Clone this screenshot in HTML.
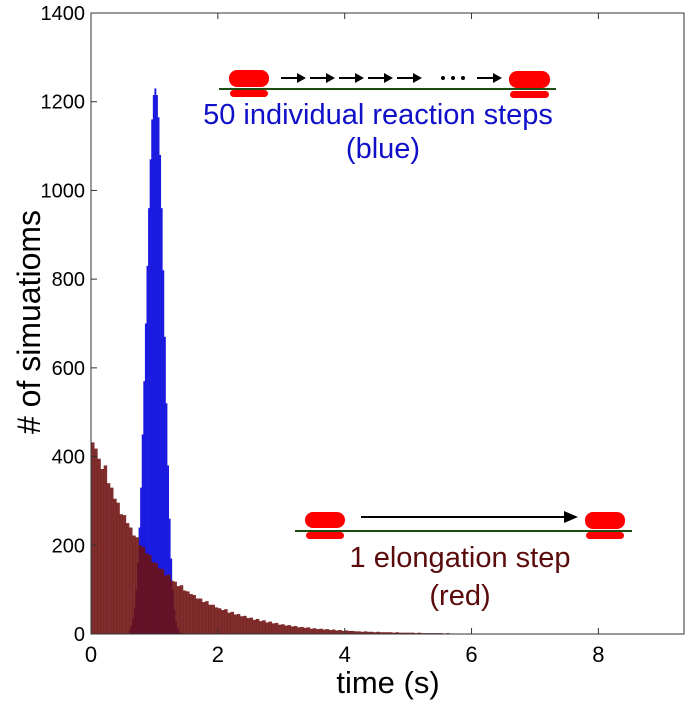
<!DOCTYPE html>
<html><head><meta charset="utf-8"><style>
body{margin:0;background:#fff;}
svg text{font-family:"Liberation Sans",sans-serif;}
</style></head><body>
<svg id="chart" width="685" height="702" xmlns="http://www.w3.org/2000/svg">
<rect width="685" height="702" fill="#fff"/>
<g id="bars"></g>
<g id="axes"></g>
<g id="diagram-top">
 <line x1="219" y1="89" x2="556" y2="89" stroke="#1e4d12" stroke-width="2"/>
 <rect x="229" y="70" width="40" height="17" rx="8" fill="#f00"/>
 <rect x="230" y="90" width="38" height="7" rx="3.5" fill="#f00"/>
 <rect x="509" y="71" width="41" height="17" rx="8" fill="#f00"/>
 <rect x="510" y="91" width="39" height="7" rx="3.5" fill="#f00"/>
 <g id="step-arrows" stroke="#000" stroke-width="2" fill="#000"></g>
 <circle cx="443" cy="78" r="2" fill="#000"/><circle cx="453" cy="78" r="2" fill="#000"/><circle cx="463" cy="78" r="2" fill="#000"/>
 <text x="378" y="124" font-size="29" fill="#1010c8" text-anchor="middle">50 individual reaction steps</text>
 <text x="383" y="158" font-size="29" fill="#1010c8" text-anchor="middle">(blue)</text>
</g>
<g id="diagram-bottom">
 <line x1="295" y1="531" x2="632" y2="531" stroke="#1e4d12" stroke-width="2"/>
 <rect x="305" y="512" width="40" height="16" rx="8" fill="#f00"/>
 <rect x="306" y="532" width="38" height="7" rx="3.5" fill="#f00"/>
 <rect x="585" y="512" width="40" height="17" rx="8" fill="#f00"/>
 <rect x="586" y="532" width="38" height="7" rx="3.5" fill="#f00"/>
 <line x1="361" y1="517" x2="570" y2="517" stroke="#000" stroke-width="2"/>
 <polygon points="578,517 564,511 564,523" fill="#000"/>
 <text x="460" y="567" font-size="29" fill="#5a0a0a" text-anchor="middle">1 elongation step</text>
 <text x="460" y="605" font-size="29" fill="#5a0a0a" text-anchor="middle">(red)</text>
</g>
<text x="388" y="693" font-size="31" text-anchor="middle">time (s)</text>
<text transform="translate(40,322) rotate(-90)" font-size="32" text-anchor="middle"># of simuatioms</text>
</svg>
<script>
const redStart = 0, redWidth = 0.05;
const redValues = [432,418,395,372,380,340,330,305,296,270,268,250,240,222,218,200,196,182,178,162,160,148,146,132,134,120,118,108,110,98,96,90,88,80,80,72,74,66,66,60,58,54,56,48,50,44,45,40,41,36,37,32,34,29,31,26,28,24,25,21,22,19,20,17,18,15,16,14,15,12,13,11,12,10,11,9,10,8,9,7,8,7,7,6,6,5,6,5,5,4,5,4,4,4,4,3,4,3,3,3,3,3,2,3,2,2,2,2,2,2,2,1,2,1,1,1,1,1,1,1,1];
const blueStart = 0.6, blueWidth = 0.025;
const blueValues = [10,20,35,60,100,160,240,330,450,570,700,830,960,1070,1160,1215,1230,1215,1165,1080,960,820,670,520,380,260,170,100,55,28,14,6,3,1];
const xTicks = [0,2,4,6,8];
const yTicks = [0,200,400,600,800,1000,1200,1400];
const X0=91, X1=684, Y0=634, Y1=13, XMAX=9.35, YMAX=1400;
const xs = v => X0 + v/XMAX*(X1-X0);
const ys = v => Y0 - v/YMAX*(Y0-Y1);
const NS="http://www.w3.org/2000/svg";
const bars=document.getElementById('bars'), axes=document.getElementById('axes');
function mk(tag, attrs, parent){const e=document.createElementNS(NS,tag);for(const k in attrs)e.setAttribute(k,attrs[k]);parent.appendChild(e);return e;}
const arrowsG=document.getElementById('step-arrows');
[281,310,339,368,397,477].forEach(x=>{
  mk('line',{x1:x,y1:78,x2:x+20,y2:78},arrowsG);
  mk('polygon',{points:`${x+25},78 ${x+16},73 ${x+16},83`,stroke:'none'},arrowsG);
});
blueValues.forEach((v,i)=>{
  const t=blueStart+i*blueWidth;
  const r=mk('rect',{x:xs(t),y:ys(v),width:xs(t+blueWidth)-xs(t)+0.3,height:Y0-ys(v),fill:'#1a1ae0'},bars);
  
  
});
redValues.forEach((v,i)=>{
  const t=redStart+i*redWidth;
  const r=mk('rect',{x:xs(t),y:ys(v),width:xs(t+redWidth)-xs(t)+0.3,height:Y0-ys(v),fill:'#6e1010','fill-opacity':0.88},bars);
  
  
});
const frame=mk('rect',{x:X0,y:Y1,width:X1-X0,height:Y0-Y1,fill:'none',stroke:'#333','stroke-width':1},axes);


xTicks.forEach(v=>{
  mk('line',{x1:xs(v),x2:xs(v),y1:Y0,y2:Y0-6,stroke:'#333'},axes);
  mk('line',{x1:xs(v),x2:xs(v),y1:Y1,y2:Y1+6,stroke:'#333'},axes);
  const t=mk('text',{x:xs(v),y:Y0+28,'font-size':22,'text-anchor':'middle'},axes);
  t.textContent=v;
  
  
});
yTicks.forEach(v=>{
  mk('line',{x1:X0,x2:X0+6,y1:ys(v),y2:ys(v),stroke:'#333'},axes);
  const t=mk('text',{x:X0-6,y:ys(v)+7,'font-size':20,'text-anchor':'end'},axes);
  t.textContent=v;
  
  
});
</script>
</body></html>
